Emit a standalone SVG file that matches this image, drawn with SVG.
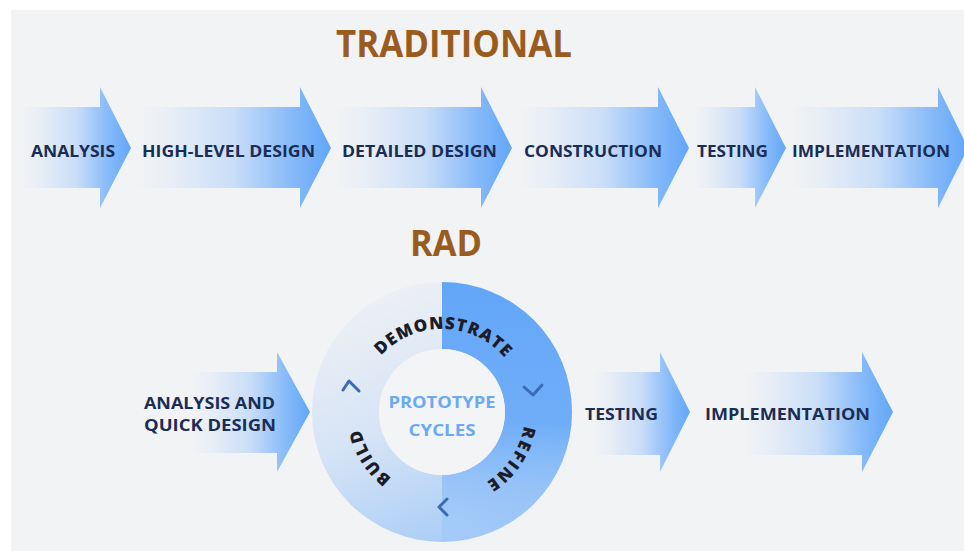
<svg xmlns="http://www.w3.org/2000/svg" width="964" height="551" viewBox="0 0 964 551">
<defs>
<linearGradient id="arrowGrad" x1="0" y1="0" x2="1" y2="0">
<stop offset="0" stop-color="#f2f3f4"/>
<stop offset="0.15" stop-color="#eaeff6"/>
<stop offset="0.5" stop-color="#cadef8"/>
<stop offset="0.8" stop-color="#86baf9"/>
<stop offset="1" stop-color="#62a6f8"/>
</linearGradient>
<linearGradient id="ringBase" x1="0.25" y1="0" x2="0.65" y2="1">
<stop offset="0" stop-color="#eff1f4"/>
<stop offset="0.5" stop-color="#d6e4f6"/>
<stop offset="1" stop-color="#a6cbf7"/>
</linearGradient>
<linearGradient id="ringRight" x1="0" y1="0" x2="0" y2="1">
<stop offset="0" stop-color="#62a6f8" stop-opacity="1"/>
<stop offset="0.55" stop-color="#6cabf9" stop-opacity="0.95"/>
<stop offset="1" stop-color="#8dbff8" stop-opacity="0.2"/>
</linearGradient>
<path id="ringPath" d="M 442,495 A 83 83 0 1 1 442,329 A 83 83 0 1 1 442,495"/>
<style>
.lbl{font-family:"Open Sans","Liberation Sans",sans-serif;font-weight:700;fill:#1a2d55;font-size:16px}
.title{font-family:"Open Sans","Liberation Sans",sans-serif;font-weight:700;fill:#9a5c1e}
.ringtxt{font-family:"Open Sans","Liberation Sans",sans-serif;font-weight:800;fill:#1c1c28;font-size:17px}
.center{font-family:"Open Sans","Liberation Sans",sans-serif;font-weight:700;fill:#6aa9f5;font-size:16px}
.arrow{fill:url(#arrowGrad)}
.chev{fill:none;stroke:#3a6bb5;stroke-width:3;stroke-linecap:round;stroke-linejoin:round}
</style>
</defs>
<rect x="0" y="0" width="964" height="551" fill="#ffffff"/>
<rect x="11" y="10" width="953" height="541" fill="#f2f3f4"/>

<text id="title-traditional" class="title" x="336" y="57" font-size="38" textLength="236" lengthAdjust="spacingAndGlyphs">TRADITIONAL</text>
<text id="title-rad" class="title" x="410" y="256" font-size="36" textLength="72" lengthAdjust="spacingAndGlyphs">RAD</text>

<g id="connectors"></g>

<g id="t-analysis">
<polygon class="arrow" points="20,107 100,107 100,87 131,148 100,208 100,188 20,188"/>
<text class="lbl" x="31" y="157" textLength="84" lengthAdjust="spacingAndGlyphs">ANALYSIS</text>
</g>
<g id="t-highlevel">
<polygon class="arrow" points="135,107 300,107 300,87 331,148 300,208 300,188 135,188"/>
<text class="lbl" x="142" y="157" textLength="173" lengthAdjust="spacingAndGlyphs">HIGH-LEVEL DESIGN</text>
</g>
<g id="t-detailed">
<polygon class="arrow" points="335,107 481,107 481,87 512,148 481,208 481,188 335,188"/>
<text class="lbl" x="342" y="157" textLength="155" lengthAdjust="spacingAndGlyphs">DETAILED DESIGN</text>
</g>
<g id="t-construction">
<polygon class="arrow" points="518,107 658,107 658,87 689,148 658,208 658,188 518,188"/>
<text class="lbl" x="524" y="157" textLength="138" lengthAdjust="spacingAndGlyphs">CONSTRUCTION</text>
</g>
<g id="t-testing">
<polygon class="arrow" points="693,107 755,107 755,87 786,148 755,208 755,188 693,188"/>
<text class="lbl" x="697" y="157" textLength="71" lengthAdjust="spacingAndGlyphs">TESTING</text>
</g>
<g id="t-implementation">
<polygon class="arrow" points="788,107 938,107 938,87 968,148 938,208 938,188 788,188"/>
<text class="lbl" x="792" y="157" textLength="158" lengthAdjust="spacingAndGlyphs">IMPLEMENTATION</text>
</g>

<g id="r-analysis">
<polygon class="arrow" points="190,372 277,372 277,352 310,412 277,472 277,453 190,453"/>
<text class="lbl" x="144" y="409" font-size="17" textLength="131" lengthAdjust="spacingAndGlyphs">ANALYSIS AND</text>
<text class="lbl" x="144" y="431" font-size="17" textLength="132" lengthAdjust="spacingAndGlyphs">QUICK DESIGN</text>
</g>

<g id="r-cycle">
<path d="M 442,282 A 130 130 0 1 1 442,542 A 130 130 0 1 1 442,282 Z M 442,349 A 63 63 0 1 0 442,475 A 63 63 0 1 0 442,349 Z" fill="url(#ringBase)" fill-rule="evenodd"/>
<path d="M 442,282 A 130 130 0 0 1 442,542 L 442,475 A 63 63 0 0 0 442,349 Z" fill="url(#ringRight)"/>
<circle cx="442" cy="412" r="63" fill="#f3f4f6"/>
<text class="ringtxt"><textPath href="#ringPath" startOffset="262" text-anchor="middle" letter-spacing="1">DEMONSTRATE</textPath></text>
<text class="ringtxt"><textPath href="#ringPath" startOffset="440" text-anchor="middle" letter-spacing="2">REFINE</textPath></text>
<text class="ringtxt"><textPath href="#ringPath" startOffset="84" text-anchor="middle" letter-spacing="1.5">BUILD</textPath></text>
<polyline class="chev" points="343,390 349,381 359,391"/>
<polyline class="chev" points="524,387 533,395 542,385"/>
<polyline class="chev" points="447,499 439,507 447,515"/>
<text class="center" x="442" y="408" text-anchor="middle" textLength="107" lengthAdjust="spacingAndGlyphs">PROTOTYPE</text>
<text class="center" x="442" y="436" text-anchor="middle" textLength="67" lengthAdjust="spacingAndGlyphs">CYCLES</text>
</g>

<g id="r-testing">
<polygon class="arrow" points="592,372 660,372 660,352 690,412 660,472 660,455 592,455"/>
<text class="lbl" x="585" y="420" font-size="17" textLength="73" lengthAdjust="spacingAndGlyphs">TESTING</text>
</g>
<g id="r-implementation">
<polygon class="arrow" points="742,372 862,372 862,352 893,412 862,472 862,455 742,455"/>
<text class="lbl" x="705" y="420" font-size="17" textLength="165" lengthAdjust="spacingAndGlyphs">IMPLEMENTATION</text>
</g>
</svg>
